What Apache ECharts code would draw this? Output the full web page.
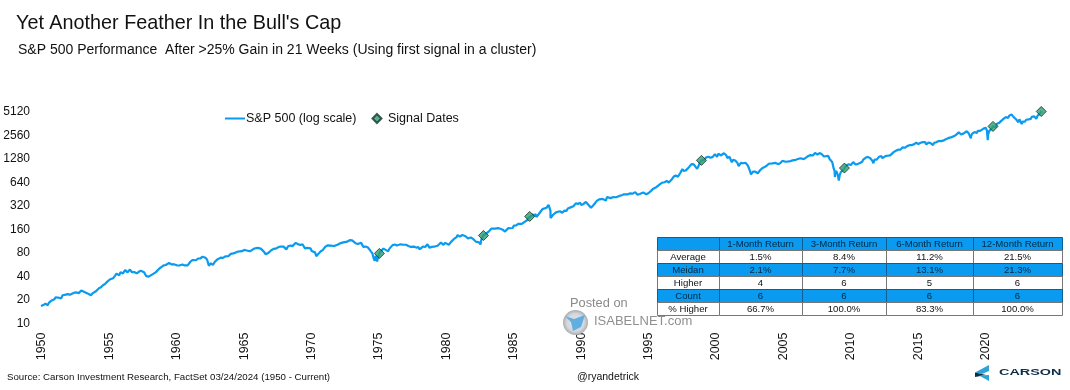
<!DOCTYPE html>
<html><head><meta charset="utf-8">
<script src="https://cdn.jsdelivr.net/npm/echarts@6/dist/echarts.min.js"></script>
<style>html,body{margin:0;padding:0;background:#fff}#c{width:1070px;height:390px}</style>
</head><body><div id="c"></div>
<script>
const sp1950s=[[1950,16.7],[1950.17,17.2],[1950.33,18],[1950.42,18.7],[1950.5,17.1],[1950.58,18.4],[1950.75,19.5],[1950.83,19.8],[1950.99,20.4],[1951.08,21.7],[1951.25,21.5],[1951.33,22.5],[1951.5,21],[1951.6,23],[1951.75,23.3],[1951.85,22.5],[1951.99,23.8],[1952.1,24.1],[1952.15,23.3],[1952.3,24],[1952.5,24.9],[1952.65,25],[1952.8,24.5],[1952.99,26.5],[1953.1,26],[1953.3,25],[1953.45,24.3],[1953.55,24.8],[1953.7,23],[1953.85,24.5],[1953.99,24.8],[1954.1,26.1],[1954.3,28.3],[1954.45,29.2],[1954.6,30.9],[1954.75,32],[1954.9,34.2],[1954.99,36],[1955.1,36.6],[1955.2,36.6],[1955.35,38],[1955.5,41],[1955.6,43.5],[1955.72,42],[1955.8,41.5],[1955.9,45.5],[1955.99,45.5],[1956.08,43.8],[1956.25,48.5],[1956.4,45.2],[1956.5,47],[1956.6,49],[1956.75,45.4],[1956.9,45.6],[1956.99,46.7],[1957.1,44],[1957.25,46],[1957.4,47.4],[1957.5,47.4],[1957.65,45.2],[1957.8,40.5],[1957.88,39.5],[1957.99,39.9],[1958.1,41.7],[1958.2,42],[1958.35,43.5],[1958.5,45.2],[1958.6,47.7],[1958.75,50],[1958.9,52.5],[1958.99,55.2],[1959.1,55.5],[1959.25,56.1],[1959.5,59.6],[1959.6,58.5],[1959.7,57],[1959.85,57.5],[1959.99,59.9]];
const sp1960s=[[1960.08,55.6],[1960.25,55.3],[1960.33,55.8],[1960.5,56.9],[1960.65,55.5],[1960.75,53.4],[1960.88,55.5],[1960.99,58.1],[1961.08,61.8],[1961.25,65.1],[1961.35,66.6],[1961.5,64.6],[1961.65,68],[1961.8,68],[1961.9,71.3],[1961.99,71.6],[1962.1,68.8],[1962.2,69.6],[1962.33,65.2],[1962.45,55],[1962.5,54.8],[1962.6,59],[1962.75,56.3],[1962.83,57],[1962.92,62.3],[1962.99,63.1],[1963.08,66.2],[1963.17,65],[1963.33,69.8],[1963.5,69.4],[1963.67,72.5],[1963.75,71.7],[1963.9,73],[1963.99,75],[1964.08,77.8],[1964.25,79],[1964.4,80.2],[1964.55,83],[1964.75,84],[1964.9,84.4],[1964.99,84.8],[1965.08,87.6],[1965.25,86.2],[1965.35,89],[1965.5,84.1],[1965.6,87],[1965.75,89.9],[1965.9,92],[1965.99,92.4],[1966.08,92.9],[1966.2,89],[1966.3,91],[1966.42,86],[1966.5,84.7],[1966.67,77.1],[1966.75,74.5],[1966.88,80.5],[1966.99,80.3],[1967.08,86.6],[1967.25,90.2],[1967.33,94],[1967.42,91],[1967.6,94.7],[1967.75,96.7],[1967.85,93.3],[1967.99,96.5],[1968.08,92.2],[1968.2,89],[1968.33,97.5],[1968.5,99.6],[1968.65,98.1],[1968.75,102.7],[1968.9,108],[1968.99,103.9],[1969.08,103],[1969.15,98.1],[1969.25,101.5],[1969.4,103.5],[1969.5,97.7],[1969.58,91.8],[1969.75,93],[1969.83,93.8],[1969.99,92]];
const sp1970s=[[1970.08,85],[1970.2,89.6],[1970.33,81.5],[1970.42,72.7],[1970.5,72.7],[1970.58,78],[1970.75,84.2],[1970.9,87.2],[1970.99,92.2],[1971.08,95.9],[1971.25,100.3],[1971.33,103.9],[1971.5,99.6],[1971.6,95.6],[1971.75,98.3],[1971.87,92.8],[1971.99,102.1],[1972.08,103.9],[1972.25,107.2],[1972.42,109.5],[1972.5,107.4],[1972.65,111],[1972.75,110.6],[1972.9,116.7],[1972.99,118],[1973.08,116],[1973.2,111.7],[1973.33,106.9],[1973.5,104.3],[1973.58,108.2],[1973.75,108.4],[1973.9,95.9],[1973.99,97.5],[1974.08,96.6],[1974.25,93.9],[1974.4,87.3],[1974.5,86],[1974.58,79.3],[1974.67,69],[1974.75,63.5],[1974.83,73.9],[1974.93,62.3],[1974.99,68.6],[1975.08,76.9],[1975.17,83],[1975.25,84],[1975.4,91],[1975.5,95.2],[1975.6,87],[1975.75,84],[1975.85,91],[1975.99,90.2],[1976.08,100.9],[1976.25,102.8],[1976.4,100],[1976.5,104.3],[1976.67,103.4],[1976.75,105.2],[1976.87,102],[1976.99,107.5],[1977.08,102],[1977.25,98.4],[1977.4,96.1],[1977.5,100.5],[1977.67,96.8],[1977.83,93.7],[1977.99,95.1],[1978.08,89.3],[1978.2,87],[1978.33,96.8],[1978.5,95.5],[1978.67,103.3],[1978.83,93.2],[1978.99,96.1],[1979.08,99.9],[1979.15,96.3],[1979.25,101.8],[1979.42,99.1],[1979.5,102.9],[1979.67,109.3],[1979.83,101.8],[1979.99,107.9]];
const sp1980s=[[1980.08,114.2],[1980.25,102],[1980.42,111],[1980.5,114.2],[1980.67,122.4],[1980.83,127.5],[1980.9,135.8],[1980.99,135],[1981.08,129.5],[1981.25,136],[1981.5,131.2],[1981.67,122.8],[1981.75,116.2],[1981.88,126.4],[1981.99,122.6],[1982.08,120.4],[1982.25,111.9],[1982.33,116.4],[1982.5,109.6],[1982.6,103],[1982.67,119.5],[1982.75,124],[1982.8,134],[1982.88,140],[1982.99,140.6],[1983.08,145.3],[1983.25,152.9],[1983.42,164.4],[1983.5,168.1],[1983.67,164.4],[1983.75,166],[1983.9,166.4],[1983.99,164.9],[1984.08,163.4],[1984.17,157],[1984.25,159.2],[1984.42,150.6],[1984.5,153.2],[1984.67,166.7],[1984.83,166.1],[1984.99,167.2],[1985.08,179.6],[1985.25,181],[1985.42,189.6],[1985.5,191.9],[1985.67,188.6],[1985.75,182],[1985.9,202],[1985.99,211.3],[1986.08,211.8],[1986.17,226.9],[1986.25,235],[1986.33,235.2],[1986.42,247.4],[1986.5,250.8],[1986.58,236.1],[1986.67,252.9],[1986.75,231.3],[1986.9,249.2],[1986.99,242.2],[1987.08,274],[1987.2,292],[1987.33,288],[1987.5,304],[1987.6,318],[1987.65,329.8],[1987.75,321],[1987.79,280],[1987.8,225],[1987.83,232],[1987.9,230],[1987.99,247],[1988.08,257],[1988.2,265],[1988.33,262],[1988.5,274],[1988.67,262],[1988.75,272],[1988.83,279],[1988.99,277.7],[1989.08,297],[1989.2,294.9],[1989.33,309.6],[1989.42,320],[1989.5,317.9],[1989.67,346],[1989.75,349],[1989.83,340],[1989.99,353.4]];
const sp1990s=[[1990.08,329],[1990.25,340],[1990.42,361],[1990.5,358],[1990.67,322.6],[1990.75,306],[1990.8,304],[1990.9,322],[1990.99,330],[1991.08,343.9],[1991.25,375],[1991.42,389.8],[1991.5,371],[1991.67,395],[1991.75,387.9],[1991.9,375],[1991.99,417],[1992.08,408.8],[1992.25,403.7],[1992.42,415],[1992.5,408],[1992.67,414],[1992.8,418],[1992.9,431],[1992.99,435.7],[1993.08,438.8],[1993.25,451.7],[1993.5,450],[1993.67,463.6],[1993.75,467],[1993.9,461],[1993.99,466.5],[1994.08,481.6],[1994.25,445.8],[1994.42,456],[1994.5,444.3],[1994.67,475.5],[1994.75,462.7],[1994.9,453.7],[1994.99,459.3],[1995.08,470.4],[1995.25,500.7],[1995.42,533.4],[1995.5,544.8],[1995.67,561.9],[1995.8,584.4],[1995.9,605],[1995.99,615.9],[1996.08,636],[1996.25,645.5],[1996.42,669],[1996.5,670.6],[1996.58,640],[1996.75,687],[1996.92,757],[1996.99,740.7],[1997.08,786],[1997.25,757],[1997.42,848],[1997.5,885],[1997.58,954],[1997.67,899],[1997.75,947],[1997.83,914],[1997.99,970],[1998.08,980],[1998.25,1101],[1998.42,1090],[1998.5,1133],[1998.55,1120],[1998.67,957],[1998.75,1017],[1998.83,1100],[1998.92,1163],[1998.99,1229],[1999.08,1279],[1999.17,1238],[1999.33,1335],[1999.42,1301],[1999.5,1372],[1999.67,1328],[1999.75,1282],[1999.83,1362],[1999.92,1389],[1999.99,1469]];
const sp2000s=[[2000.08,1394],[2000.15,1366],[2000.25,1498],[2000.33,1452],[2000.42,1420],[2000.5,1454],[2000.67,1517],[2000.75,1436],[2000.83,1429],[2000.92,1315],[2000.99,1320],[2001.08,1366],[2001.17,1240],[2001.25,1160],[2001.33,1249],[2001.42,1255],[2001.5,1224],[2001.67,1134],[2001.75,1040],[2001.83,1060],[2001.92,1139],[2001.99,1148],[2002.08,1130],[2002.25,1147],[2002.42,1067],[2002.5,989],[2002.58,911],[2002.67,815],[2002.75,815],[2002.83,885],[2002.9,936],[2002.99,880],[2003.08,855],[2003.17,841],[2003.25,848],[2003.33,916],[2003.42,963],[2003.5,974],[2003.67,1008],[2003.83,1050],[2003.99,1112],[2004.08,1131],[2004.25,1126],[2004.33,1107],[2004.5,1140],[2004.67,1101],[2004.83,1130],[2004.99,1211],[2005.08,1181],[2005.25,1180],[2005.5,1191],[2005.58,1234],[2005.75,1228],[2005.83,1207],[2005.99,1249],[2006.08,1280],[2006.33,1310],[2006.42,1270],[2006.58,1276],[2006.75,1335],[2006.92,1400],[2006.99,1418],[2007.08,1438],[2007.25,1420],[2007.42,1530],[2007.5,1503],[2007.6,1455],[2007.75,1526],[2007.78,1549],[2007.9,1481],[2007.99,1468],[2008.08,1378],[2008.2,1325],[2008.4,1400],[2008.5,1280],[2008.58,1267],[2008.7,1164],[2008.8,968],[2008.87,896],[2008.89,752],[2008.92,850],[2008.99,903],[2009.08,825],[2009.15,735],[2009.18,676],[2009.25,798],[2009.33,872],[2009.42,919],[2009.5,919],[2009.6,980],[2009.67,1020],[2009.75,1057],[2009.83,1036],[2009.92,1095],[2009.99,1115]];
const sp2010s=[[2010.08,1073],[2010.17,1104],[2010.25,1169],[2010.33,1186],[2010.42,1089],[2010.5,1030],[2010.58,1101],[2010.67,1049],[2010.75,1141],[2010.83,1183],[2010.92,1180],[2010.99,1257],[2011.08,1286],[2011.17,1327],[2011.25,1325],[2011.33,1363],[2011.42,1345],[2011.5,1320],[2011.58,1292],[2011.67,1218],[2011.75,1131],[2011.83,1253],[2011.92,1246],[2011.99,1257],[2012.08,1312],[2012.17,1365],[2012.25,1408],[2012.33,1397],[2012.42,1310],[2012.5,1362],[2012.67,1406],[2012.75,1440],[2012.83,1412],[2012.92,1416],[2012.99,1426],[2013.08,1498],[2013.25,1569],[2013.42,1631],[2013.5,1606],[2013.58,1685],[2013.67,1632],[2013.75,1681],[2013.83,1756],[2013.92,1805],[2013.99,1848],[2014.08,1782],[2014.17,1859],[2014.25,1872],[2014.42,1923],[2014.5,1960],[2014.58,1930],[2014.67,2003],[2014.75,1972],[2014.83,2018],[2014.92,2067],[2014.99,2058],[2015.08,1994],[2015.17,2104],[2015.25,2067],[2015.42,2107],[2015.5,2063],[2015.58,2104],[2015.67,1972],[2015.75,1920],[2015.83,2079],[2015.92,2080],[2015.99,2043],[2016.08,1940],[2016.17,1932],[2016.25,2059],[2016.42,2096],[2016.5,2098],[2016.58,2173],[2016.75,2168],[2016.83,2126],[2016.92,2198],[2016.99,2238],[2017.08,2278],[2017.17,2363],[2017.33,2384],[2017.5,2423],[2017.58,2470],[2017.75,2519],[2017.92,2647],[2017.99,2673],[2018.08,2823],[2018.17,2713],[2018.25,2640],[2018.33,2648],[2018.42,2705],[2018.5,2718],[2018.67,2901],[2018.75,2913],[2018.83,2711],[2018.92,2760],[2018.98,2350],[2018.99,2506],[2019.08,2704],[2019.25,2834],[2019.33,2945],[2019.42,2750],[2019.5,2941],[2019.67,2926],[2019.75,2976],[2019.92,3140],[2019.99,3230]];
const sp2020s=[[2020.08,3225],[2020.14,3380],[2020.17,2954],[2020.23,2237],[2020.25,2584],[2020.33,2912],[2020.42,3044],[2020.5,3100],[2020.58,3271],[2020.62,3350],[2020.67,3500],[2020.75,3363],[2020.83,3270],[2020.9,3622],[2020.99,3756],[2021.08,3714],[2021.17,3811],[2021.25,3972],[2021.33,4181],[2021.42,4204],[2021.5,4297],[2021.58,4395],[2021.67,4522],[2021.75,4307],[2021.83,4605],[2021.92,4567],[2021.99,4766],[2022.08,4515],[2022.17,4373],[2022.25,4530],[2022.33,4131],[2022.42,4132],[2022.5,3785],[2022.58,4130],[2022.67,3955],[2022.75,3585],[2022.83,3871],[2022.92,4080],[2022.99,3839],[2023.08,4076],[2023.17,3970],[2023.25,4109],[2023.33,4169],[2023.42,4179],[2023.5,4450],[2023.58,4588],[2023.67,4507],[2023.75,4288],[2023.83,4193],[2023.92,4567],[2023.99,4770],[2024.08,4845],[2024.15,5096],[2024.23,5234]];
const signalDates=[1975.1,1982.82,1986.25,1998.99,2009.6,2020.62,2024.2];
const signalValues=[79,134,235,1229,980,3350,5200];
const yTicks=[10,20,40,80,160,320,640,1280,2560,5120];
const tableHeader=['','1-Month Return','3-Month Return','6-Month Return','12-Month Return'];
const tableLabels=['Average','Meidan','Higher','Count','% Higher'];
const month1=['1.5%','2.1%','4','6','66.7%'];
const month3=['8.4%','7.7%','6','6','100.0%'];
const month6=['11.2%','13.1%','5','6','83.3%'];
const month12=['21.5%','21.3%','6','6','100.0%'];
const FONT='"Liberation Sans",Arial,sans-serif';
const BLUE='#0a9bf0', NAVY='#03263f';
const colX=[657,719,802,886,973,1062], rowY=[237,250,263,276,289,302,315];
const rows=[tableHeader].concat(tableLabels.map((l,i)=>[l,month1[i],month3[i],month6[i],month12[i]]));
const g=[];
rows.forEach((r,i)=>{r.forEach((t,j)=>{
  const blue=i%2===0;
  g.push({type:'rect',z:20,shape:{x:colX[j]+.5,y:rowY[i]+.5,width:colX[j+1]-colX[j],height:rowY[i+1]-rowY[i]},style:{fill:blue?BLUE:'#fff',stroke:blue?'#0b5f94':'#777',lineWidth:1}});
  g.push({type:'text',z:21,x:(colX[j]+colX[j+1])/2,y:(rowY[i]+rowY[i+1])/2+.5,style:{text:t,fill:blue?NAVY:'#111',font:'9.6px '+FONT,align:'center',verticalAlign:'middle'}});
});});
function txt(t,x,y,font,fill,align){return {type:'text',z:22,x,y,style:{text:t,font:font+' '+FONT,fill:fill||'#111',align:align||'left',verticalAlign:'middle'}};}
g.push(txt("Yet Another Feather In the Bull's Cap",16,24,'19.8px','#111'));
g.push(txt("S&P 500 Performance  After >25% Gain in 21 Weeks (Using first signal in a cluster)",18,50.5,'14px','#111'));
g.push(txt("Source: Carson Investment Research, FactSet 03/24/2024 (1950 - Current)",7,377,'9.7px','#111'));
g.push(txt("@ryandetrick",577,377,'10.5px','#111'));
g.push(txt("Posted on",570,303,'12.8px','#8a8a8a'));
g.push(txt("ISABELNET.com",594,321,'13px','#8f8f8f'));
g.push({type:'circle',z:22,shape:{cx:575.5,cy:322.5,r:12.5},style:{fill:{type:'radial',x:.5,y:.5,r:.5,colorStops:[{offset:0,color:'#e4e8ec'},{offset:.7,color:'#d4d8dc'},{offset:1,color:'#a8adb2'}]}}});
g.push({type:'polygon',z:23,shape:{points:[[565,316],[574,319],[585,315],[581,327],[573,331],[571,322]]},style:{fill:'#63aee0'}});
g.push({type:'polygon',z:22,shape:{points:[[989,365],[989,371],[982,374],[975,372.5]]},style:{fill:'#2fa3d8'}});
g.push({type:'polygon',z:22,shape:{points:[[975,372.5],[986,375],[975,377]]},style:{fill:'#0c2d48'}});
g.push({type:'polygon',z:22,shape:{points:[[979,375.5],[989,375],[989,381]]},style:{fill:'#2fa3d8'}});
const logoText=txt("CARSON",999,372.5,'bold 8.4px','#0c2d48');
logoText.scaleX=1.72;
g.push(logoText);

const chart=echarts.init(document.getElementById('c'),null,{renderer:'canvas'});
chart.setOption({
 animation:false,backgroundColor:'#fff',
 textStyle:{fontFamily:FONT},
 grid:{left:41,top:112,width:1004.3,height:211.5,containLabel:false},
 legend:{left:220,top:107,itemWidth:20,itemHeight:9,itemGap:15,symbolKeepAspect:true,textStyle:{fontSize:12.5,color:'#111',padding:[0,0,0,-4],fontFamily:FONT},
   data:[{name:'S&P 500 (log scale)',icon:'path://M0 0H20V2H0Z'},{name:'Signal Dates',icon:'path://M5 0L10 5L5 10L0 5Z'}]},
 xAxis:{type:'value',min:1950,max:2024.5,interval:5,splitLine:{show:false},axisLine:{show:false},axisTick:{show:false},
   axisLabel:{rotate:90,margin:9,fontSize:12.5,color:'#111',showMaxLabel:false,verticalAlign:'top',lineHeight:2,formatter:v=>String(v)}},
 yAxis:{type:'log',logBase:2,min:10,max:5120,splitLine:{show:false},axisLine:{show:false},axisTick:{show:false},
   axisLabel:{margin:11,fontSize:12,color:'#111',customValues:yTicks,formatter:v=>String(Math.round(v))}},
 graphic:{elements:g},
 series:[
  {name:'S&P 500 (log scale)',type:'line',showSymbol:false,symbol:'none',lineStyle:{color:BLUE,width:2.2},itemStyle:{color:BLUE},
   data:[].concat(sp1950s,sp1960s,sp1970s,sp1980s,sp1990s,sp2000s,sp2010s,sp2020s),z:2,clip:false},
  {name:'Signal Dates',type:'scatter',symbol:'diamond',symbolSize:10,clip:false,itemStyle:{color:'#2e9e6e',borderColor:'#12352b',borderWidth:1},
   data:signalDates.map((d,i)=>[d,signalValues[i]]),z:3}
 ]
});
</script></body></html>
